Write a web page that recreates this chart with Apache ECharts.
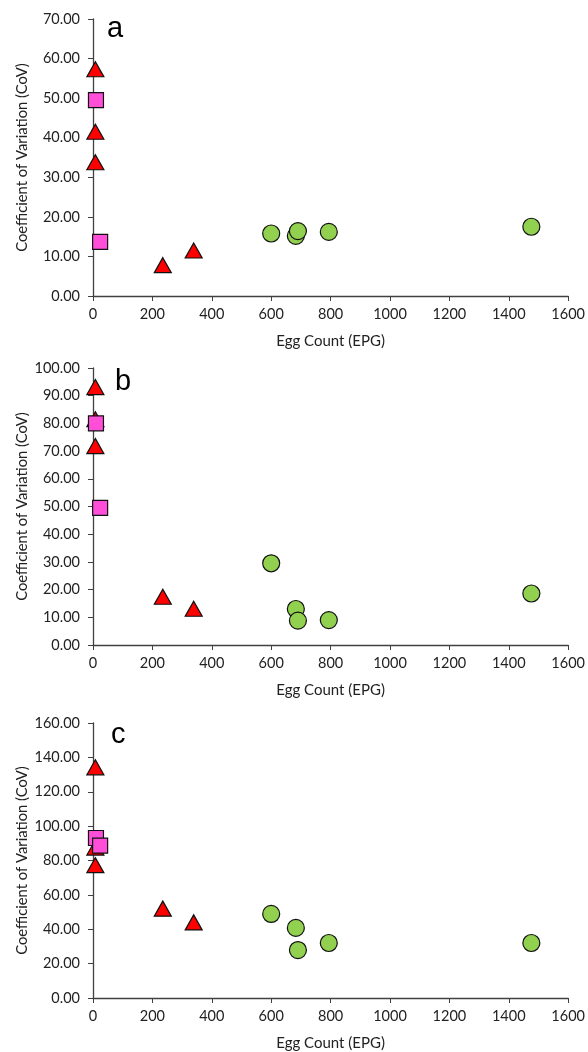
<!DOCTYPE html>
<html>
<head>
<meta charset="utf-8">
<script src="https://cdn.jsdelivr.net/npm/echarts@6/dist/echarts.min.js"></script>
<style>
  html, body { margin: 0; padding: 0; background: #fff; }
  #main { width: 588px; height: 1052px; }
</style>
</head>
<body>
<div id="main"></div>
<script>
// egg counts (EPG) per sample group
var triEpg = [8, 8, 8, 235, 339];
var sqEpg = [10, 24];
var circEpg = [600, 683, 690, 794, 1476];

// CoV, panel a
var triCovA = [57.3, 41.5, 33.8, 7.8, 11.5];
var sqCovA = [49.5, 13.7];
var circCovA = [15.8, 15.2, 16.4, 16.2, 17.5];

// CoV, panel b
var triCovB = [93.1, 81.5, 71.8, 17.4, 13.1];
var sqCovB = [80.0, 49.5];
var circCovB = [29.5, 13.0, 8.8, 9.0, 18.6];

// CoV, panel c
var triCovC = [134.2, 87.5, 77.3, 52.0, 44.0];
var sqCovC = [93.1, 88.7];
var circCovC = [48.9, 40.8, 27.9, 32.0, 32.0];

var panelLetters = ['a', 'b', 'c'];
var yMax = [70, 100, 160];
var yStep = [10, 10, 20];

var FONT = 'Lato, "Open Sans", sans-serif';
var AXIS_COLOR = '#404040';

function pairs(xs, ys) {
  var out = [];
  for (var i = 0; i < xs.length; i++) out.push([xs[i], ys[i]]);
  return out;
}

var grids = [
  { left: 93, width: 478, top: 19, height: 277 },
  { left: 93, width: 478, top: 368, height: 277 },
  { left: 93, width: 478, top: 723, height: 276 }
];

var xAxes = [], yAxes = [];
for (var g = 0; g < 3; g++) {
  xAxes.push({
    gridIndex: g, type: 'value', min: 0, max: 1600, interval: 200,
    name: 'Egg Count (EPG)', nameLocation: 'middle', nameGap: 38,
    nameMoveOverlap: false,
    nameTextStyle: { fontFamily: FONT, fontSize: 15, color: '#222' },
    axisLine: { show: true, lineStyle: { color: AXIS_COLOR, width: 1.3 } },
    axisTick: { show: true, length: 5, lineStyle: { color: AXIS_COLOR } },
    axisLabel: {
      fontFamily: FONT, fontSize: 14.5, color: '#222', margin: 11,
      formatter: function (v) { return String(v); }
    },
    splitLine: { show: false }
  });
  yAxes.push({
    gridIndex: g, type: 'value', min: 0, max: yMax[g], interval: yStep[g],
    name: 'Coefficient of Variation (CoV)', nameLocation: 'middle', nameGap: 63,
    nameMoveOverlap: false,
    nameTextStyle: { fontFamily: FONT, fontSize: 14.8, color: '#222' },
    axisLine: { show: true, lineStyle: { color: AXIS_COLOR, width: 1.3 } },
    axisTick: { show: true, length: 5, lineStyle: { color: AXIS_COLOR } },
    axisLabel: {
      fontFamily: FONT, fontSize: 14.5, color: '#222', margin: 13,
      formatter: function (v) { return v.toFixed(2); }
    },
    splitLine: { show: false }
  });
}

var titles = [
  { text: panelLetters[0], left: 102, top: 9 },
  { text: panelLetters[1], left: 110, top: 362 },
  { text: panelLetters[2], left: 106, top: 715 }
].map(function (t) {
  t.textStyle = { fontFamily: 'Liberation Sans, Arial, sans-serif', fontSize: 29, fontWeight: 'normal', color: '#000' };
  return t;
});

var triCov = [triCovA, triCovB, triCovC];
var sqCov = [sqCovA, sqCovB, sqCovC];
var circCov = [circCovA, circCovB, circCovC];

var series = [];
for (var k = 0; k < 3; k++) {
  series.push({
    type: 'scatter', xAxisIndex: k, yAxisIndex: k, z: 3,
    symbol: 'circle', symbolSize: 17,
    itemStyle: { color: '#92D050', borderColor: '#111', borderWidth: 1.2, opacity: 1 },
    data: pairs(circEpg, circCov[k])
  });
  series.push({
    type: 'scatter', xAxisIndex: k, yAxisIndex: k, z: 2,
    symbol: 'triangle', symbolSize: [17, 15],
    itemStyle: { color: '#FF0000', borderColor: '#111', borderWidth: 1.2, opacity: 1 },
    data: pairs(triEpg, triCov[k])
  });
  series.push({
    type: 'scatter', xAxisIndex: k, yAxisIndex: k, z: 4,
    symbol: 'rect', symbolSize: 15,
    itemStyle: { color: '#FF4FD8', borderColor: '#111', borderWidth: 1.2, opacity: 1 },
    data: pairs(sqEpg, sqCov[k])
  });
}

var chart = echarts.init(document.getElementById('main'));
chart.setOption({
  backgroundColor: '#fff',
  animation: false,
  title: titles,
  grid: grids,
  xAxis: xAxes,
  yAxis: yAxes,
  series: series
});
</script>
</body>
</html>
